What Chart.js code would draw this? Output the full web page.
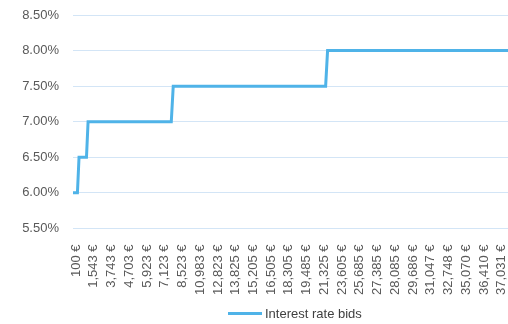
<!DOCTYPE html>
<html lang="en">
<head>
  <meta charset="UTF-8" />
  <title>Interest rate bids</title>
  <script src="https://cdn.jsdelivr.net/npm/chart.js"></script>
  <style>
    html, body { margin: 0; padding: 0; background: #fff; }
    #wrap { position: relative; width: 508px; height: 324px; }
    #legend {
      position: absolute; left: 228px; top: 306px;
      display: flex; align-items: center;
      font: 13px "Liberation Sans", Arial, sans-serif; color: #404040;
    }
    #legend .swatch { width: 34px; height: 3px; background: #4fb3e8; margin-right: 3px; }
  </style>
</head>
<body>
  <div id="wrap">
    <canvas id="bidsChart" width="508" height="324"></canvas>
    <div id="legend"><span class="swatch"></span><span>Interest rate bids</span></div>
  </div>

  <script>
    // bid amount labels shown on the category axis
    const bidLabels = ['100 €', '1,543 €', '3,743 €', '4,703 €', '5,923 €', '7,123 €', '8,523 €',
      '10,983 €', '12,823 €', '13,825 €', '15,205 €', '16,505 €', '18,305 €', '19,485 €',
      '21,325 €', '23,605 €', '25,685 €', '27,385 €', '28,085 €', '29,686 €', '31,047 €',
      '32,748 €', '35,070 €', '36,410 €', '37,031 €'];

    // where the rate changes, measured in label positions along the axis
    const bidPos = [-0.17, 0.08, 0.17, 0.59, 0.68, 5.37, 5.48, 14.07, 14.18, 24.35];
    const rates  = [6.00, 6.00, 6.50, 6.50, 7.00, 7.00, 7.50, 7.50, 8.00, 8.00];

    const rateTicks = [5.5, 6.0, 6.5, 7.0, 7.5, 8.0, 8.5];

    const points = bidPos.map((x, i) => ({ x: x, y: rates[i] }));

    const font = { family: '"Liberation Sans", Arial, sans-serif', size: 13 };

    new Chart(document.getElementById('bidsChart'), {
      type: 'line',
      data: {
        datasets: [{
          label: 'Interest rate bids',
          data: points,
          borderColor: '#4fb3e8',
          backgroundColor: '#4fb3e8',
          borderWidth: 3,
          pointRadius: 0,
          tension: 0
        }]
      },
      options: {
        responsive: false,
        animation: false,
        layout: { padding: { left: 20, top: 15, right: 0, bottom: 21 } },
        plugins: { legend: { display: false }, tooltip: { enabled: false } },
        scales: {
          x: {
            type: 'linear',
            min: bidPos[0],
            max: bidPos[bidPos.length - 1],
            grid: { display: false },
            border: { display: false },
            // rotated labels should not push the plot in from the sides
            afterFit: (s) => { s.paddingLeft = 0; s.paddingRight = 0; },
            ticks: {
              stepSize: 1,
              includeBounds: false,
              autoSkip: false,
              minRotation: 90,
              maxRotation: 90,
              padding: 8,
              color: '#595959',
              font: font,
              callback: (v) => bidLabels[v] ?? ''
            }
          },
          y: {
            min: rateTicks[0],
            max: rateTicks[rateTicks.length - 1],
            grid: { color: '#d3e5f6', drawTicks: false },
            border: { display: false },
            afterBuildTicks: (axis) => { axis.ticks = rateTicks.map(v => ({ value: v })); },
            afterFit: (s) => { s.width = 53; s.paddingTop = 0; s.paddingBottom = 0; },
            ticks: {
              padding: 14,
              color: '#595959',
              font: font,
              callback: (v) => v.toFixed(2) + '%'
            }
          }
        }
      }
    });
  </script>
</body>
</html>
